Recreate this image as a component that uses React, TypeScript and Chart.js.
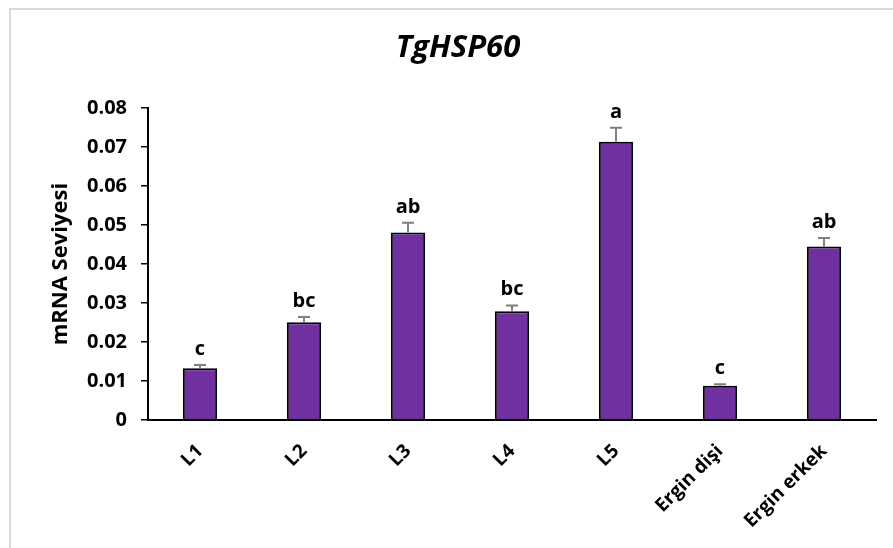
import React, { useEffect, useRef } from "react";
import { Chart, registerables } from "chart.js";

Chart.register(...registerables);

const categories = ["L1", "L2", "L3", "L4", "L5", "Ergin dişi", "Ergin erkek"];
const means = [0.0133, 0.0251, 0.0481, 0.0279, 0.0714, 0.0088, 0.0445];
const errors = [0.0008, 0.0013, 0.0025, 0.0015, 0.0036, 0.0004, 0.0022];
const letters = ["c", "bc", "ab", "bc", "a", "c", "ab"];
const yTicks = [0, 0.01, 0.02, 0.03, 0.04, 0.05, 0.06, 0.07, 0.08];

const FONT = "'Open Sans', 'Noto Sans', sans-serif";

const extrasPlugin = {
  id: "extras",
  beforeDraw(chart: any) {
    const ctx = chart.ctx;
    ctx.save();
    ctx.strokeStyle = "#d9d9d9";
    ctx.lineWidth = 2;
    ctx.strokeRect(10, 9, chart.width + 20, chart.height + 20);
    ctx.restore();
  },
  afterDatasetsDraw(chart: any) {
    const ctx = chart.ctx;
    const meta = chart.getDatasetMeta(0);
    const y = chart.scales.y;
    ctx.save();
    meta.data.forEach((bar: any, i: number) => {
      const x = bar.x;
      const top = y.getPixelForValue(means[i] + errors[i]);
      const base = bar.y;
      ctx.strokeStyle = "#7f7f7f";
      ctx.lineWidth = 2;
      ctx.beginPath();
      ctx.moveTo(x, base);
      ctx.lineTo(x, top);
      ctx.moveTo(x - 6, top);
      ctx.lineTo(x + 6, top);
      ctx.stroke();
      ctx.fillStyle = "#000";
      ctx.font = `bold 20px ${FONT}`;
      ctx.textAlign = "center";
      ctx.textBaseline = "alphabetic";
      ctx.fillText(letters[i], x, top - 10);
    });
    ctx.restore();
  },
};

export default function App() {
  const ref = useRef<HTMLCanvasElement>(null);
  useEffect(() => {
    if (!ref.current) return;
    const chart = new Chart(ref.current, {
      type: "bar",
      data: {
        labels: categories,
        datasets: [
          {
            data: means,
            backgroundColor: "#7030a0",
            borderColor: "#000000",
            borderWidth: 2,
            categoryPercentage: 1,
            barPercentage: 0.33,
          },
        ],
      },
      options: {
        animation: false,
        responsive: false,
        maintainAspectRatio: false,
        layout: { padding: { left: 40, right: 17, top: 0, bottom: 0 } },
        plugins: {
          legend: { display: false },
          tooltip: { enabled: false },
          title: {
            display: true,
            text: "TgHSP60",
            color: "#000",
            font: { family: FONT, size: 31, weight: "bold", style: "italic" },
            padding: { top: 30, bottom: 41 },
          },
        },
        scales: {
          x: {
            grid: { display: false },
            border: { display: true, color: "#000", width: 2 },
            ticks: {
              color: "#000",
              font: { family: FONT, size: 19, weight: "bold" },
              minRotation: 45,
              maxRotation: 45,
              padding: 12,
            },
            afterFit(scale: any) {
              scale.height = 128;
            },
          },
          y: {
            min: 0,
            max: 0.08,
            afterBuildTicks(scale: any) {
              scale.ticks = yTicks.map((v) => ({ value: v }));
            },
            grid: {
              display: true,
              drawOnChartArea: false,
              drawTicks: true,
              tickLength: 7,
              color: "#000",
              lineWidth: 1.5,
            },
            border: { display: true, color: "#000", width: 2 },
            ticks: {
              color: "#000",
              font: { family: FONT, size: 20, weight: "bold" },
              padding: 14,
              callback: (v: any) => (v === 0 ? "0" : Number(v).toFixed(2)),
            },
            title: {
              display: true,
              text: "mRNA Seviyesi",
              color: "#000",
              font: { family: FONT, size: 22, weight: "bold" },
              padding: { top: 8, bottom: 0 },
            },
            afterFit(scale: any) {
              scale.width = 108;
            },
          },
        },
      },
      plugins: [extrasPlugin],
    });
    return () => chart.destroy();
  }, []);
  return (
    <div style={{ position: "fixed", left: 0, top: 0, width: 893, height: 548, background: "#fff" }}>
      <canvas ref={ref} width={893} height={548} style={{ display: "block" }} />
    </div>
  );
}
